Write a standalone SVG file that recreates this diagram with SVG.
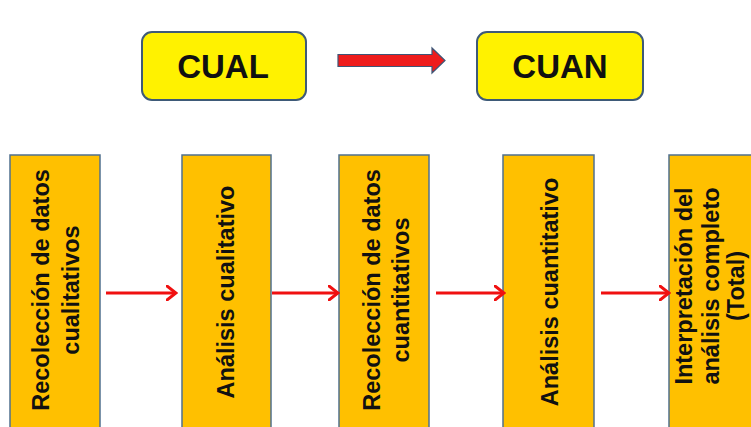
<svg xmlns="http://www.w3.org/2000/svg" width="751" height="427" viewBox="0 0 751 427">
  <defs>
    <style>
      .tag { fill: #FFF200; stroke: #3E5A78; stroke-width: 2; }
      .tag-text { font-family: "Liberation Sans", Arial, sans-serif; font-weight: bold; font-size: 33px; fill: #111; text-anchor: middle; }
      .step { fill: #FFC000; stroke: #50708E; stroke-width: 1.5; }
      .step-text { font-family: "Liberation Sans", Arial, sans-serif; font-weight: bold; font-size: 23.5px; fill: #111; text-anchor: middle; }
      .link { stroke: #F01010; stroke-width: 3; fill: none; }
    </style>
    <marker id="chevron" viewBox="0 0 12 16" refX="10" refY="8" markerWidth="12" markerHeight="16" markerUnits="userSpaceOnUse" orient="auto">
      <path d="M1,1 L10,8 L1,15" fill="none" stroke="#F01010" stroke-width="3" stroke-linecap="round" stroke-linejoin="miter"/>
    </marker>
  </defs>

  <rect width="751" height="427" fill="#FFFFFF"/>

  <!-- phase labels -->
  <g id="cual">
    <rect class="tag" x="142" y="32" width="164" height="68" rx="10"/>
    <text class="tag-text" x="223" y="78">CUAL</text>
  </g>
  <g id="cuan">
    <rect class="tag" x="477" y="32" width="166" height="68" rx="10"/>
    <text class="tag-text" x="560" y="78">CUAN</text>
  </g>

  <!-- sequential steps, text reads bottom to top -->
  <g id="step1">
    <rect class="step" x="10" y="155" width="90" height="290"/>
    <text class="step-text" transform="translate(49,290) rotate(-90)">Recolección de datos</text>
    <text class="step-text" transform="translate(79,290) rotate(-90)">cualitativos</text>
  </g>
  <g id="step2">
    <rect class="step" x="182" y="155" width="89" height="290"/>
    <text class="step-text" transform="translate(234,292) rotate(-90)">Análisis cualitativo</text>
  </g>
  <g id="step3">
    <rect class="step" x="339" y="155" width="90" height="290"/>
    <text class="step-text" transform="translate(380,290) rotate(-90)">Recolección de datos</text>
    <text class="step-text" transform="translate(409,290) rotate(-90)">cuantitativos</text>
  </g>
  <g id="step4">
    <rect class="step" x="503" y="155" width="91" height="290"/>
    <text class="step-text" transform="translate(558,292) rotate(-90)">Análisis cuantitativo</text>
  </g>
  <g id="step5">
    <rect class="step" x="669" y="155" width="100" height="290"/>
    <text class="step-text" transform="translate(692,286) rotate(-90)">Interpretación del</text>
    <text class="step-text" transform="translate(719,286) rotate(-90)">análisis completo</text>
    <text class="step-text" transform="translate(744,286) rotate(-90)">(Total)</text>
  </g>

  <!-- connectors -->
  <g id="connectors">
    <path d="M338,54.5 L432,54.5 L432,48 L445,60.5 L432,73 L432,66.5 L338,66.5 Z" fill="#EE1C1C" stroke="#3E5576" stroke-width="1.2"/>
    <path class="link" d="M106,293 L176,293" marker-end="url(#chevron)"/>
    <path class="link" d="M272,293 L338,293" marker-end="url(#chevron)"/>
    <path class="link" d="M436,293 L504,293" marker-end="url(#chevron)"/>
    <path class="link" d="M601,293 L669,293" marker-end="url(#chevron)"/>
  </g>
</svg>
